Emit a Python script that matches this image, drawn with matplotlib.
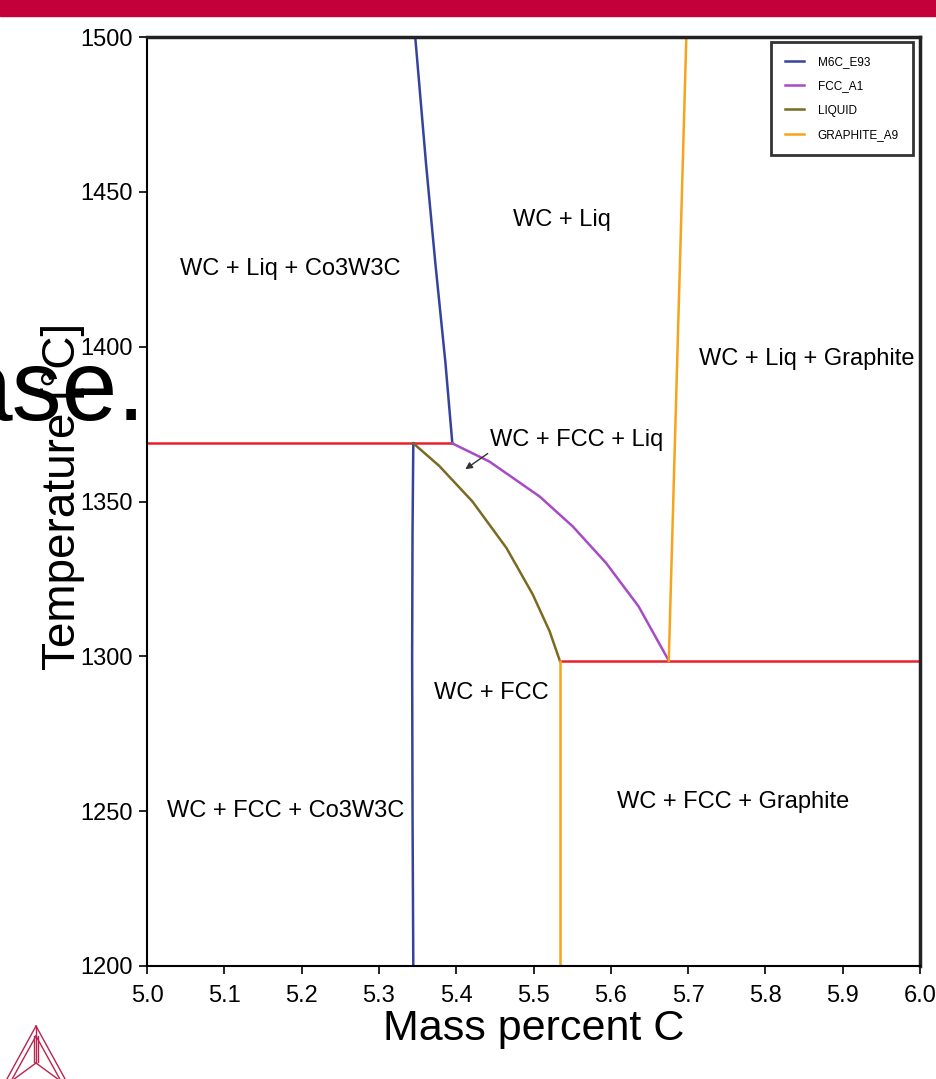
import matplotlib
matplotlib.use("Agg")
import matplotlib.pyplot as plt
from matplotlib.lines import Line2D
from matplotlib.patches import Rectangle

# phase boundary data (mass percent C, temperature C)
m6c_upper_x = [5.347, 5.361, 5.373, 5.386, 5.395]
m6c_upper_t = [1500, 1459, 1427, 1395, 1368.8]
m6c_lower_x = [5.3445, 5.3435, 5.343, 5.3435, 5.3445]
m6c_lower_t = [1368.8, 1340, 1300, 1250, 1200]

fcc_x = [5.3947, 5.443, 5.508, 5.551, 5.594, 5.636, 5.675]
fcc_t = [1368.8, 1362.9, 1351.6, 1341.9, 1330.1, 1316.1, 1298.6]

liquid_x = [5.3445, 5.378, 5.421, 5.465, 5.499, 5.521, 5.534]
liquid_t = [1368.8, 1361.5, 1350.0, 1335.0, 1320.0, 1308.0, 1298.6]

graphite_upper_x = [5.675, 5.6977]
graphite_upper_t = [1298.6, 1500]
graphite_lower_x = [5.534, 5.534]
graphite_lower_t = [1298.6, 1200]

invariant_x = [[5.0, 5.3947], [5.534, 6.0]]
invariant_t = [[1368.8, 1368.8], [1298.6, 1298.6]]

region_labels = ["WC + Liq", "WC + Liq + Co3W3C", "WC + Liq + Graphite",
                 "WC + FCC + Liq", "WC + FCC", "WC + FCC + Co3W3C",
                 "WC + FCC + Graphite"]
region_x = [5.537, 5.185, 5.853, 5.556, 5.445, 5.179, 5.758]
region_t = [1441, 1425, 1396, 1370, 1288, 1250, 1253]

x_ticks = [5.0, 5.1, 5.2, 5.3, 5.4, 5.5, 5.6, 5.7, 5.8, 5.9, 6.0]
y_ticks = [1200, 1250, 1300, 1350, 1400, 1450, 1500]

blue = "#34449c"
magenta = "#a64ac6"
olive = "#7a6a22"
orange = "#f7a41d"
red = "#e8202e"

narrow = ["Liberation Sans Narrow", "Liberation Sans", "DejaVu Sans"]
plain = ["Liberation Sans", "DejaVu Sans"]

W, H = 936, 1079
fig = plt.figure(figsize=(W / 100, H / 100), dpi=100)

def fx(px):
    return px / W

def fy(py):
    return 1 - py / H

ax = fig.add_axes([fx(147), fy(966), fx(920) - fx(147), fy(37) - fy(966)])

# invariant lines
for xs, ts in zip(invariant_x, invariant_t):
    ax.plot(xs, ts, color=red, lw=1.8)

ax.plot(m6c_upper_x, m6c_upper_t, color=blue, lw=1.8, label="M6C_E93")
ax.plot(m6c_lower_x, m6c_lower_t, color=blue, lw=1.8)
ax.plot(fcc_x, fcc_t, color=magenta, lw=1.8, label="FCC_A1")
ax.plot(liquid_x, liquid_t, color=olive, lw=1.8, label="LIQUID")
ax.plot(graphite_upper_x, graphite_upper_t, color=orange, lw=1.8, label="GRAPHITE_A9")
ax.plot(graphite_lower_x, graphite_lower_t, color=orange, lw=1.8)

for lab, x, t in zip(region_labels, region_x, region_t):
    ax.text(x, t, lab, ha="center", va="center", fontsize=17, family=plain)

ax.annotate("", xy=(5.4088, 1359.9), xytext=(5.4437, 1366.0),
            arrowprops=dict(arrowstyle="-|>", color="#333333", lw=1.0,
                            mutation_scale=10))

ax.set_xlim(5.0, 6.0)
ax.set_ylim(1200, 1500)
ax.set_xticks(x_ticks)
ax.set_xticklabels([f"{v:.1f}" for v in x_ticks])
ax.set_yticks(y_ticks)
ax.tick_params(direction="out", length=6, width=1.2, labelsize=17, pad=4)
ax.tick_params(axis="x", pad=8)
for lab in ax.get_xticklabels() + ax.get_yticklabels():
    lab.set_family(narrow)

for side in ["left", "bottom"]:
    ax.spines[side].set_linewidth(1.5)
for side in ["top", "right"]:
    ax.spines[side].set_linewidth(2.5)
    ax.spines[side].set_color("#222222")

ax.set_xlabel("Mass percent C", fontsize=31, family=narrow)
ax.xaxis.set_label_coords((534 - 147) / 773, -0.046)
ax.set_ylabel("Temperature [°C]", fontsize=33, family=narrow)
ax.yaxis.set_label_coords(-0.08, (966 - 496) / 929)

leg = ax.legend(loc="upper right", bbox_to_anchor=(0.991, 0.995), borderaxespad=0,
                fancybox=False, edgecolor="black",
                prop={"family": narrow, "size": 8.5}, handlelength=1.6,
                labelspacing=1.05, borderpad=1.2, handletextpad=1.2)
leg.get_frame().set_linewidth(2)

# red banner at the top
fig.patches.append(Rectangle((0, fy(16)), 1, 16 / H, transform=fig.transFigure,
                             color="#c4003a", zorder=5))

# overlay slide text
fig.text(fx(146), fy(420), "ase.", fontsize=72, family=plain, ha="right",
         va="baseline", zorder=6)

# logo in the bottom-left corner
logo = "#b7244f"
A, B, C, O = (36, 1026), (2, 1088), (70, 1088), (36, 1063)
a, b, c = (36, 1036), (10, 1083), (62, 1083)
segs = [(A, B), (B, C), (C, A), (a, b), (b, c), (c, a), (O, A), (O, B), (O, C),
        ((34, 1036), (34, 1062)), ((38, 1036), (38, 1062))]
for p, q in segs:
    fig.add_artist(Line2D([fx(p[0]), fx(q[0])], [fy(p[1]), fy(q[1])],
                          transform=fig.transFigure, color=logo, lw=1.0))

fig.savefig("out.png", dpi=100)
